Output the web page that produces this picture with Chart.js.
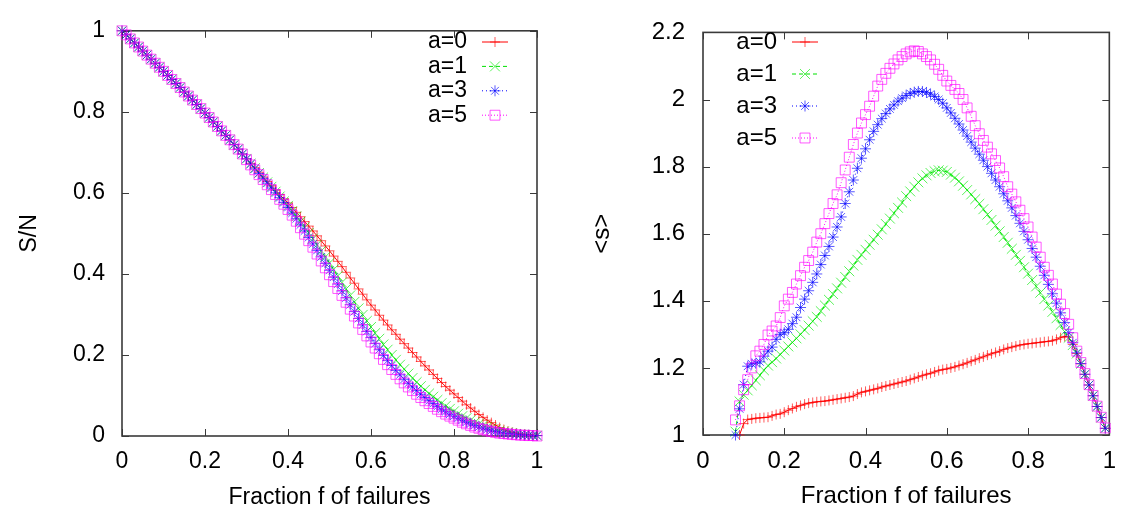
<!DOCTYPE html>
<html>
<head>
<meta charset="utf-8">
<script src="https://cdn.jsdelivr.net/npm/chart.js@4.4.1/dist/chart.umd.min.js"></script>
<style>
  html, body { margin: 0; padding: 0; background: #fff; }
  #wrap { position: relative; width: 1128px; height: 514px; }
  canvas { position: absolute; top: 0; }
  #left { left: 0; }
  #right { left: 564px; }
</style>
</head>
<body>
<div id="wrap">
  <canvas id="left" width="564" height="514"></canvas>
  <canvas id="right" width="564" height="514"></canvas>
</div>
<script>
// ---- data ----
const LABELS = ['a=0', 'a=1', 'a=3', 'a=5'];

// left panel: S/N against fraction of failures
const F1 = [0,0.01,0.02,0.03,0.04,0.05,0.06,0.07,0.08,0.09,0.1,0.11,0.12,0.13,0.14,0.15,0.16,0.17,0.18,0.19,
  0.2,0.21,0.22,0.23,0.24,0.25,0.26,0.27,0.28,0.29,0.3,0.31,0.32,0.33,0.34,0.35,0.36,0.37,0.38,0.39,
  0.4,0.41,0.42,0.43,0.44,0.45,0.46,0.47,0.48,0.49,0.5,0.51,0.52,0.53,0.54,0.55,0.56,0.57,0.58,0.59,
  0.6,0.61,0.62,0.63,0.64,0.65,0.66,0.67,0.68,0.69,0.7,0.71,0.72,0.73,0.74,0.75,0.76,0.77,0.78,0.79,
  0.8,0.81,0.82,0.83,0.84,0.85,0.86,0.87,0.88,0.89,0.9,0.91,0.92,0.93,0.94,0.95,0.96,0.97,0.98,0.99,1];

const SN_A0 = [1,0.99,0.98,0.97,0.96,0.95,0.94,0.93,0.92,0.91,0.9,0.89,0.88,0.87,0.86,0.849,0.839,0.829,0.818,0.808,
  0.797,0.786,0.775,0.764,0.753,0.742,0.731,0.719,0.708,0.696,0.684,
  0.673,0.662,0.651,0.639,0.628,0.617,0.607,0.596,0.585,0.575,
  0.564,0.552,0.541,0.529,0.518,0.506,0.494,0.482,0.469,0.457,
  0.444,0.431,0.418,0.404,0.39,0.377,0.363,0.35,0.336,0.323,
  0.311,0.298,0.286,0.274,0.262,0.251,0.239,0.228,0.217,0.206,
  0.195,0.184,0.173,0.163,0.152,0.142,0.132,0.122,0.113,0.104,
  0.095,0.086,0.077,0.069,0.061,0.053,0.046,0.039,0.033,0.027,
  0.021,0.016,0.012,0.009,0.007,0.005,0.004,0.003,0.002,0.001];

const SN_A1 = [1,0.99,0.98,0.97,0.96,0.95,0.94,0.93,0.92,0.91,0.9,0.89,0.88,0.87,0.86,0.849,0.839,0.829,0.818,0.808,
  0.797,0.786,0.775,0.764,0.753,0.742,0.731,0.719,0.708,0.696,0.684,
  0.672,0.661,0.649,0.638,0.626,0.615,0.603,0.591,0.579,0.568,
  0.555,0.542,0.529,0.515,0.501,0.487,0.472,0.457,0.442,0.427,
  0.411,0.395,0.379,0.363,0.347,0.331,0.315,0.299,0.284,0.269,
  0.254,0.24,0.226,0.213,0.2,0.188,0.176,0.165,0.154,0.143,
  0.133,0.123,0.114,0.105,0.097,0.089,0.081,0.074,0.067,0.061,
  0.055,0.049,0.044,0.039,0.034,0.03,0.026,0.022,0.019,0.016,
  0.013,0.011,0.009,0.007,0.005,0.004,0.003,0.002,0.001,0.001];

const SN_A3 = [1,0.99,0.98,0.97,0.96,0.95,0.94,0.93,0.92,0.91,0.9,0.89,0.88,0.87,0.86,0.849,0.839,0.829,0.818,0.808,
  0.797,0.786,0.775,0.764,0.753,0.742,0.731,0.719,0.708,0.696,0.684,
  0.671,0.659,0.648,0.636,0.624,0.612,0.6,0.588,0.576,0.564,
  0.55,0.536,0.521,0.506,0.49,0.474,0.458,0.442,0.426,0.409,
  0.392,0.375,0.358,0.341,0.324,0.307,0.29,0.274,0.258,0.243,
  0.228,0.213,0.199,0.186,0.174,0.162,0.151,0.14,0.13,0.121,
  0.112,0.103,0.095,0.087,0.08,0.073,0.066,0.06,0.054,0.049,
  0.044,0.039,0.034,0.03,0.026,0.022,0.019,0.016,0.013,0.011,
  0.009,0.007,0.006,0.005,0.004,0.003,0.002,0.002,0.001,0.001];

const SN_A5 = [1,0.99,0.98,0.97,0.96,0.95,0.94,0.93,0.92,0.91,0.9,0.89,0.88,0.87,0.86,0.849,0.839,0.829,0.818,0.808,
  0.797,0.786,0.775,0.764,0.753,0.742,0.731,0.719,0.708,0.696,0.682,
  0.669,0.657,0.645,0.633,0.62,0.608,0.596,0.584,0.572,0.559,
  0.545,0.53,0.514,0.498,0.482,0.466,0.449,0.432,0.415,0.398,
  0.381,0.364,0.347,0.33,0.313,0.296,0.279,0.263,0.247,0.232,
  0.217,0.203,0.189,0.176,0.164,0.152,0.141,0.131,0.121,0.112,
  0.103,0.095,0.087,0.08,0.073,0.066,0.06,0.054,0.049,0.044,
  0.039,0.034,0.03,0.026,0.022,0.019,0.016,0.013,0.011,0.009,
  0.007,0.006,0.005,0.004,0.003,0.002,0.002,0.001,0.001,0];

// right panel: <s> against fraction of failures
const F2 = [0.08,0.09,0.1,0.11,0.12,0.13,0.14,0.15,0.16,0.17,0.18,0.19,
  0.2,0.21,0.22,0.23,0.24,0.25,0.26,0.27,0.28,0.29,0.3,0.31,0.32,0.33,0.34,0.35,0.36,0.37,0.38,0.39,
  0.4,0.41,0.42,0.43,0.44,0.45,0.46,0.47,0.48,0.49,0.5,0.51,0.52,0.53,0.54,0.55,0.56,0.57,0.58,0.59,
  0.6,0.61,0.62,0.63,0.64,0.65,0.66,0.67,0.68,0.69,0.7,0.71,0.72,0.73,0.74,0.75,0.76,0.77,0.78,0.79,
  0.8,0.81,0.82,0.83,0.84,0.85,0.86,0.87,0.88,0.89,0.9,0.91,0.92,0.93,0.94,0.95,0.96,0.97,0.98,0.99];

const S_A0 = [null,1,1.034,1.046,1.048,1.05,1.051,1.052,1.053,1.057,1.061,1.063,
  1.068,1.074,1.079,1.084,1.088,1.092,1.095,1.097,1.099,1.1,
  1.101,1.103,1.105,1.107,1.109,1.111,1.113,1.116,1.122,1.127,
  1.13,1.133,1.136,1.139,1.143,1.146,1.149,1.152,1.155,1.158,
  1.161,1.165,1.169,1.173,1.177,1.181,1.184,1.188,1.192,1.195,
  1.197,1.2,1.203,1.207,1.211,1.215,1.22,1.224,1.229,1.233,
  1.238,1.242,1.246,1.25,1.255,1.259,1.262,1.265,1.268,1.27,
  1.272,1.273,1.275,1.276,1.278,1.279,1.281,1.285,1.29,1.294,
  1.292,1.27,1.243,1.212,1.181,1.149,1.117,1.085,1.052,1.02];

const S_A1 = [1.01,1.1,1.12,1.133,1.148,1.163,1.178,1.193,1.207,1.217,1.228,1.24,
  1.252,1.264,1.276,1.288,1.3,1.313,1.326,1.339,1.352,1.369,
  1.386,1.403,1.42,1.437,1.454,1.471,1.488,1.505,1.522,1.537,
  1.552,1.567,1.582,1.597,1.613,1.629,1.645,1.661,1.677,1.693,
  1.712,1.726,1.74,1.753,1.765,1.774,1.781,1.786,1.789,1.788,
  1.784,1.776,1.767,1.756,1.743,1.73,1.717,1.703,1.689,1.673,
  1.657,1.641,1.624,1.607,1.59,1.573,1.555,1.537,1.519,1.5,
  1.481,1.462,1.443,1.424,1.405,1.386,1.367,1.348,1.328,1.308,
  1.29,1.268,1.243,1.212,1.181,1.149,1.117,1.085,1.052,1.02];

const S_A3 = [1,1.078,1.15,1.205,1.212,1.214,1.218,1.235,1.25,1.262,1.285,1.3,
  1.305,1.315,1.332,1.351,1.38,1.405,1.43,1.455,1.48,1.508,
  1.535,1.562,1.59,1.62,1.65,1.69,1.725,1.76,1.795,1.825,
  1.853,1.88,1.905,1.925,1.943,1.958,1.972,1.984,1.995,2.004,
  2.012,2.018,2.022,2.024,2.024,2.021,2.016,2.009,2,1.989,
  1.975,1.96,1.944,1.927,1.909,1.891,1.873,1.855,1.837,1.819,
  1.8,1.78,1.76,1.74,1.719,1.698,1.677,1.654,1.631,1.607,
  1.582,1.556,1.53,1.503,1.476,1.449,1.421,1.393,1.364,1.335,
  1.305,1.275,1.245,1.213,1.181,1.149,1.117,1.085,1.052,1.02];

const S_A5 = [1.045,1.087,1.135,1.165,1.2,1.236,1.25,1.27,1.298,1.31,1.325,1.35,
  1.385,1.405,1.425,1.45,1.475,1.5,1.52,1.545,1.575,1.6,
  1.63,1.66,1.69,1.716,1.752,1.79,1.828,1.866,1.9,1.93,
  1.955,1.98,2.01,2.04,2.06,2.078,2.093,2.106,2.118,2.128,
  2.136,2.142,2.145,2.143,2.136,2.128,2.118,2.105,2.09,2.072,
  2.055,2.042,2.03,2.018,2,1.975,1.95,1.922,1.898,1.878,
  1.858,1.838,1.818,1.796,1.77,1.74,1.718,1.695,1.67,1.645,
  1.62,1.59,1.56,1.53,1.5,1.476,1.45,1.42,1.39,1.362,
  1.33,1.29,1.25,1.216,1.183,1.15,1.118,1.086,1.053,1.021];

// tick values and labels
const X_TICKS = [0, 0.2, 0.4, 0.6, 0.8, 1];
const X_TICK_LABELS = ['0', '0.2', '0.4', '0.6', '0.8', '1'];
const Y1_TICKS = [0, 0.2, 0.4, 0.6, 0.8, 1];
const Y1_TICK_LABELS = ['0', '0.2', '0.4', '0.6', '0.8', '1'];
const Y2_TICKS = [1, 1.2, 1.4, 1.6, 1.8, 2, 2.2];
const Y2_TICK_LABELS = ['1', '1.2', '1.4', '1.6', '1.8', '2', '2.2'];

// ---- styling ----
const FONT = "'Liberation Sans', Arial, Helvetica, sans-serif";
const FRAME = '#3a3a3a';
Chart.defaults.font.family = FONT;
Chart.defaults.color = '#000';

const STYLES = [
  { line: '#ff0000', point: 'rgba(255,0,0,0.65)', shape: 'cross', r: 5, dash: [] },
  { line: '#00e000', point: 'rgba(0,235,0,0.65)', shape: 'crossRot', r: 7, dash: [4, 3] },
  { line: '#0000ff', point: 'rgba(0,0,255,0.65)', shape: 'star', r: 5.5, dash: [1, 3] },
  { line: '#ff00ff', point: 'rgba(255,0,255,0.65)', shape: 'rect', r: 7, dash: [1, 2] }
];

function makeSets(xs, series) {
  return series.map((ys, i) => {
    const s = STYLES[i];
    return {
      label: LABELS[i],
      data: xs.map((x, j) => ({ x: x, y: ys[j] })).filter(p => p.y !== null),
      borderColor: s.line,
      borderWidth: 1,
      borderDash: s.dash,
      pointStyle: s.shape,
      pointRadius: s.r,
      pointBorderColor: s.point,
      pointBackgroundColor: 'rgba(0,0,0,0)',
      pointBorderWidth: 1,
      tension: 0,
      fill: false,
      clip: false,
      order: series.length - i   // later series on top, as in gnuplot
    };
  });
}

// gnuplot-like key: label text right aligned, then line sample
const gpKey = {
  id: 'gpKey',
  afterDatasetsDraw(chart, args, opts) {
    const ctx = chart.ctx;
    ctx.save();
    ctx.font = opts.fontSize + 'px ' + FONT;
    ctx.textAlign = 'right';
    ctx.textBaseline = 'middle';
    chart.data.datasets.forEach((ds, i) => {
      const y = opts.top + i * opts.rowGap;
      ctx.fillStyle = '#000';
      ctx.fillText(ds.label, opts.textRight, y);
      ctx.strokeStyle = ds.borderColor;
      ctx.lineWidth = 1;
      ctx.setLineDash(ds.borderDash);
      ctx.beginPath();
      ctx.moveTo(opts.sampleLeft, y);
      ctx.lineTo(opts.sampleRight, y);
      ctx.stroke();
      ctx.setLineDash([]);
      ctx.strokeStyle = ds.pointBorderColor;
      ctx.fillStyle = 'rgba(0,0,0,0)';
      Chart.helpers.drawPoint(ctx, { pointStyle: ds.pointStyle, radius: ds.pointRadius, borderWidth: 1, rotation: 0 },
        (opts.sampleLeft + opts.sampleRight) / 2, y);
    });
    ctx.restore();
  }
};

// box round the plot with inward ticks on all four sides
const gpFrame = {
  id: 'gpFrame',
  beforeDatasetsDraw(chart) {
    const { ctx, chartArea: a, scales } = chart;
    const t = 7;
    ctx.save();
    ctx.strokeStyle = FRAME;
    ctx.lineWidth = 1;
    ctx.beginPath();
    scales.x.ticks.forEach(tk => {
      const px = Math.round(scales.x.getPixelForValue(tk.value)) + 0.5;
      ctx.moveTo(px, a.bottom); ctx.lineTo(px, a.bottom - t);
      ctx.moveTo(px, a.top); ctx.lineTo(px, a.top + t);
    });
    scales.y.ticks.forEach(tk => {
      const py = Math.round(scales.y.getPixelForValue(tk.value)) + 0.5;
      ctx.moveTo(a.left, py); ctx.lineTo(a.left + t, py);
      ctx.moveTo(a.right, py); ctx.lineTo(a.right - t, py);
    });
    ctx.stroke();
    ctx.lineWidth = 1.6;
    ctx.strokeRect(a.left, a.top, a.right - a.left, a.bottom - a.top);
    ctx.restore();
  }
};

function fixedTicks(values, labels) {
  return {
    afterBuildTicks: (scale) => { scale.ticks = values.map(v => ({ value: v })); },
    ticks: {
      autoSkip: false, maxRotation: 0,
      callback: (v) => labels[values.indexOf(v)]
    }
  };
}

function makeChart(id, xs, series, cfg) {
  const xt = fixedTicks(X_TICKS, X_TICK_LABELS);
  const yt = fixedTicks(cfg.yTicks, cfg.yLabels);
  const font = { family: FONT, size: cfg.fontSize };
  return new Chart(document.getElementById(id), {
    type: 'line',
    data: { datasets: makeSets(xs, series) },
    options: {
      responsive: false,
      animation: false,
      events: [],
      layout: { padding: cfg.padding },
      plugins: {
        legend: { display: false },
        tooltip: { enabled: false },
        gpKey: cfg.key
      },
      scales: {
        x: {
          type: 'linear', min: 0, max: 1,
          grid: { display: false, drawTicks: false }, border: { display: false },
          afterBuildTicks: xt.afterBuildTicks,
          afterFit: (s) => { s.height = cfg.xHeight; },
          ticks: Object.assign({ padding: cfg.xPad, font: font }, xt.ticks),
          title: { display: true, text: 'Fraction f of failures', font: font, padding: { top: 0, bottom: 3 } }
        },
        y: {
          type: 'linear', min: cfg.yMin, max: cfg.yMax,
          grid: { display: false, drawTicks: false }, border: { display: false },
          afterBuildTicks: yt.afterBuildTicks,
          afterFit: (s) => { s.width = cfg.yWidth; },
          ticks: Object.assign({ padding: cfg.yPad, font: font }, yt.ticks),
          title: { display: true, text: cfg.yTitle, font: font, padding: { top: cfg.yTitlePad, bottom: 0 } }
        }
      }
    },
    plugins: [gpFrame, gpKey]
  });
}

makeChart('left', F1, [SN_A0, SN_A1, SN_A3, SN_A5], {
  yMin: 0, yMax: 1, yTicks: Y1_TICKS, yLabels: Y1_TICK_LABELS,
  yTitle: 'S/N', yTitlePad: 16, yPad: 17, xPad: 12, fontSize: 23,
  padding: { left: 0, right: 27, top: 22, bottom: 0 },
  yWidth: 122, xHeight: 78,
  key: { textRight: 467, sampleLeft: 482, sampleRight: 508, top: 42, rowGap: 24.4, fontSize: 23 }
});

makeChart('right', F2, [S_A0, S_A1, S_A3, S_A5], {
  yMin: 1, yMax: 2.2, yTicks: Y2_TICKS, yLabels: Y2_TICK_LABELS,
  yTitle: '<s>', yTitlePad: 24, yPad: 18, xPad: 12, fontSize: 24,
  padding: { left: 0, right: 8, top: 23, bottom: 0 },
  yWidth: 139, xHeight: 79,
  key: { textRight: 213, sampleLeft: 228, sampleRight: 254, top: 42, rowGap: 32, fontSize: 24 }
});
</script>
</body>
</html>
